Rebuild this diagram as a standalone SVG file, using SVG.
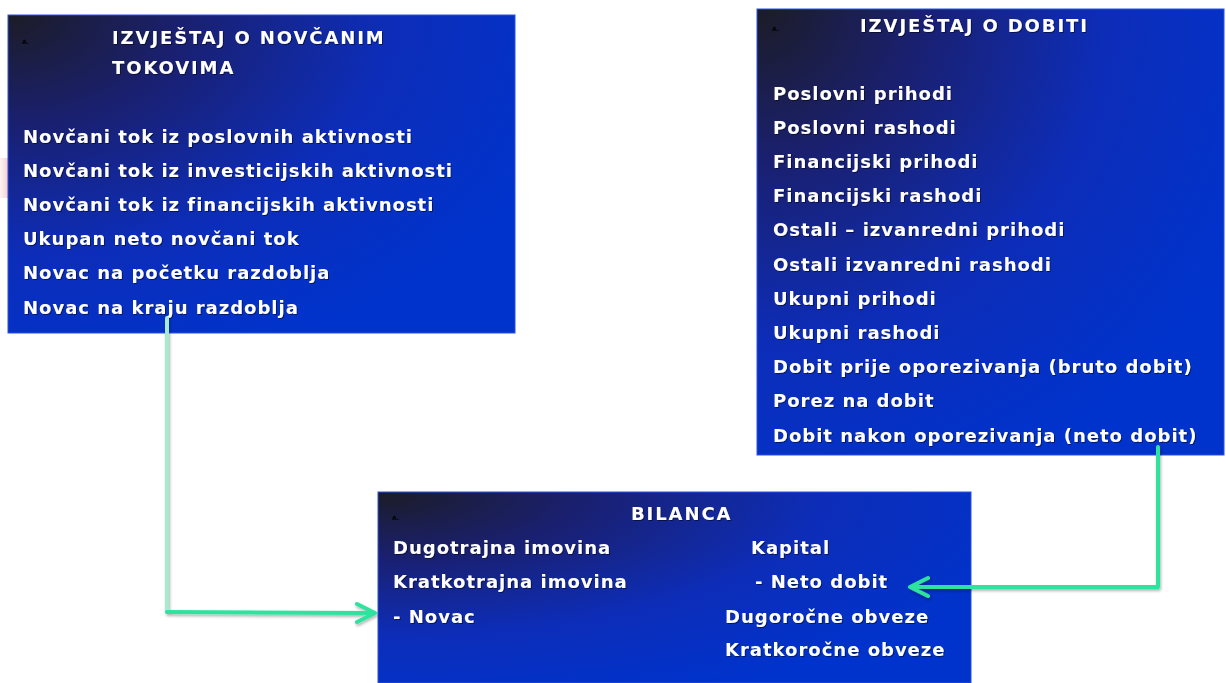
<svg xmlns="http://www.w3.org/2000/svg" width="1226" height="683" viewBox="0 0 1226 683">
<defs>
<radialGradient id="boxg" cx="0" cy="0" r="1.15" fx="0" fy="0">
<stop offset="0" stop-color="#1c1c26"/>
<stop offset="0.3" stop-color="#1a2070"/>
<stop offset="0.65" stop-color="#0d2db8"/>
<stop offset="1" stop-color="#0033cc"/>
</radialGradient>
<linearGradient id="grayg" x1="0" y1="0" x2="1" y2="0">
<stop offset="0" stop-color="#9a9a9a"/>
<stop offset="1" stop-color="#dadada"/>
</linearGradient>
<linearGradient id="pinkg" x1="0" y1="0" x2="1" y2="0">
<stop offset="0" stop-color="#f7c8c8" stop-opacity="0.2"/>
<stop offset="1" stop-color="#f4b8b8" stop-opacity="0.8"/>
</linearGradient>
<filter id="sh" x="-10%" y="-10%" width="130%" height="130%">
<feDropShadow dx="1" dy="2" stdDeviation="1.5" flood-color="#000" flood-opacity="0.3"/>
</filter>
<filter id="tsh" x="-5%" y="-20%" width="110%" height="160%">
<feDropShadow dx="1" dy="1" stdDeviation="0.6" flood-color="#000" flood-opacity="0.5"/>
</filter>
</defs>
<style>
.box{fill:url(#boxg);stroke:#2b50e6;stroke-width:1}
.t{font-family:"DejaVu Sans","Liberation Sans",sans-serif;font-weight:bold;font-size:18px;letter-spacing:1px;fill:#ffffff;filter:url(#tsh)}
.h{letter-spacing:1.9px}
.mk{font-family:"DejaVu Sans","Liberation Sans",sans-serif;font-weight:bold;font-size:6px;fill:#000000}
.lnk{fill:none;stroke:#2ee39d;stroke-width:4;stroke-linecap:round;stroke-linejoin:round}
</style>
<rect width="1226" height="683" fill="#ffffff"/>
<rect x="0" y="158" width="9" height="40" fill="url(#pinkg)"/>

<g id="connectors">
<line x1="516" y1="201" x2="757" y2="201" stroke="url(#grayg)" stroke-width="4"/>
</g>

<g id="node-novcani-tokovi">
<rect class="box" x="8" y="15" width="507" height="318"/>
<text class="mk" x="22" y="44">A.</text>
<text class="t h" x="112" y="44">IZVJEŠTAJ O NOVČANIM</text>
<text class="t h" x="112" y="74">TOKOVIMA</text>
<text class="t" x="23" y="143">Novčani tok iz poslovnih aktivnosti</text>
<text class="t" x="23" y="177">Novčani tok iz investicijskih aktivnosti</text>
<text class="t" x="23" y="211">Novčani tok iz financijskih aktivnosti</text>
<text class="t" x="23" y="245">Ukupan neto novčani tok</text>
<text class="t" x="23" y="279">Novac na početku razdoblja</text>
<text class="t" x="23" y="314">Novac na kraju razdoblja</text>
</g>

<g id="node-dobit">
<rect class="box" x="757" y="9" width="467" height="446"/>
<text class="mk" x="772" y="31">A.</text>
<text class="t h" x="860" y="32">IZVJEŠTAJ O DOBITI</text>
<text class="t" x="773" y="100">Poslovni prihodi</text>
<text class="t" x="773" y="134">Poslovni rashodi</text>
<text class="t" x="773" y="168">Financijski prihodi</text>
<text class="t" x="773" y="202">Financijski rashodi</text>
<text class="t" x="773" y="236">Ostali – izvanredni prihodi</text>
<text class="t" x="773" y="271">Ostali izvanredni rashodi</text>
<text class="t" x="773" y="305">Ukupni prihodi</text>
<text class="t" x="773" y="339">Ukupni rashodi</text>
<text class="t" x="773" y="373">Dobit prije oporezivanja (bruto dobit)</text>
<text class="t" x="773" y="407">Porez na dobit</text>
<text class="t" x="773" y="442">Dobit nakon oporezivanja (neto dobit)</text>
</g>

<g id="node-bilanca">
<rect class="box" x="378" y="492" width="593" height="191"/>
<text class="mk" x="392" y="520">A.</text>
<text class="t h" x="631" y="520">BILANCA</text>
<text class="t" x="393" y="554">Dugotrajna imovina</text>
<text class="t" x="393" y="588">Kratkotrajna imovina</text>
<text class="t" x="393" y="623">- Novac</text>
<text class="t" x="751" y="554">Kapital</text>
<text class="t" x="755" y="588">- Neto dobit</text>
<text class="t" x="725" y="623">Dugoročne obveze</text>
<text class="t" x="725" y="656">Kratkoročne obveze</text>
</g>

<g id="arrows" filter="url(#sh)">
<line x1="167" y1="318" x2="167" y2="611" stroke="#a6ead0" stroke-width="4" stroke-linecap="round"/>
<path class="lnk" d="M167 612 L375 613 M357 604 L375 613 L357 622"/>
<path class="lnk" d="M1158 447 L1158 587 L910 587 M928 578 L910 587 L928 596"/>
</g>
</svg>
